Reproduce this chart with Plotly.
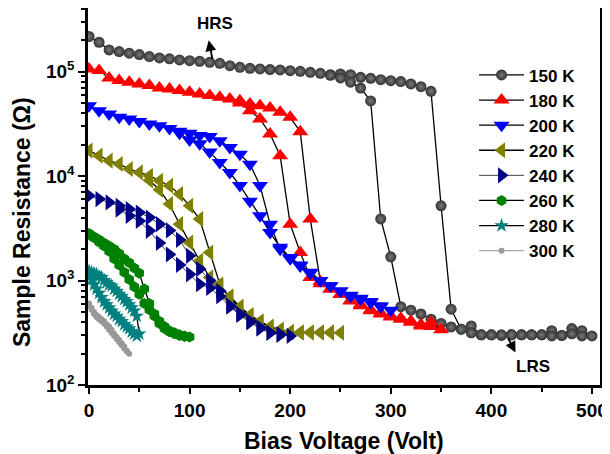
import numpy as np
import plotly.graph_objects as go

# ---------------- data (log10 of resistance in ohm) -------------
# 150 K : forward sweep 0 -> 500 V, then return sweep 490 -> 240 V
V_150 = list(range(0, 501, 10)) + list(range(490, 239, -10))
logR_150 = [5.337, 5.282, 5.209, 5.193, 5.177, 5.164, 5.145, 5.132, 5.123, 5.113,
            5.106, 5.100, 5.090, 5.080, 5.058, 5.042, 5.032, 5.027, 5.020, 5.017,
            5.010, 5.004, 4.994, 4.985, 4.972, 4.979, 4.972, 4.946, 4.937, 4.924,
            4.914, 4.905, 4.883, 4.857, 4.812, 3.716, 2.726, 2.534, 2.566, 2.480,
            2.480, 2.475, 2.480, 2.480, 2.480, 2.480, 2.520, 2.475, 2.540, 2.520,
            2.470,
            2.470, 2.490, 2.475, 2.470, 2.480, 2.480, 2.480, 2.480, 2.480, 2.480,
            2.480, 2.500, 2.534, 2.556, 2.590, 2.630, 2.680, 2.716, 2.750, 3.227,
            3.590, 4.720, 4.843, 4.900, 4.940, 4.965]

# 180 K : 0 -> 350 V, back 340 -> 150 V
V_180 = list(range(0, 351, 10)) + list(range(340, 149, -10))
logR_180 = [5.027, 5.011, 4.940, 4.915, 4.898, 4.883, 4.867, 4.845, 4.835, 4.819,
            4.803, 4.787, 4.771, 4.755, 4.739, 4.723, 4.691, 4.675, 4.653, 4.611,
            4.563, 4.426, 3.589, 2.990, 2.920, 2.870, 2.805, 2.760, 2.710, 2.680,
            2.650, 2.630, 2.600, 2.566, 2.600, 2.530,
            2.560, 2.580, 2.610, 2.640, 2.660, 2.690, 2.720, 2.770, 2.810, 2.870,
            2.920, 2.970, 3.030, 3.268, 3.540, 4.196, 4.404, 4.547, 4.627, 4.700]

# 200 K : 0 -> 300 V, back 290 -> 90 V
V_200 = list(range(0, 301, 10)) + list(range(290, 89, -10))
logR_200 = [4.675, 4.627, 4.595, 4.563, 4.547, 4.524, 4.499, 4.483, 4.457, 4.430,
            4.410, 4.390, 4.380, 4.340, 4.275, 4.210, 4.115, 3.910, 3.540, 3.300,
            3.210, 3.140, 3.070, 3.000, 2.950, 2.900, 2.850, 2.820, 2.790, 2.750,
            2.716,
            2.760, 2.800, 2.830, 2.860, 2.900, 2.950, 3.000, 3.080, 3.150, 3.220,
            3.320, 3.460, 3.620, 3.760, 3.910, 4.035, 4.130, 4.230, 4.310, 4.345,
            4.410]

# 220 K : 0 -> 250 V, back 240 -> 60 V
V_220 = list(range(0, 251, 10)) + list(range(240, 59, -10))
logR_220 = [4.244, 4.196, 4.148, 4.116, 4.068, 4.036, 4.004, 3.956, 3.908, 3.828,
            3.716, 3.589, 3.268, 2.965, 2.830, 2.740, 2.660, 2.600, 2.550, 2.520,
            2.505, 2.500, 2.500, 2.500, 2.500, 2.500,
            2.505, 2.505, 2.505, 2.505, 2.510, 2.530, 2.560, 2.610, 2.670, 2.750,
            2.850, 2.940, 3.030, 3.190, 3.364, 3.540, 3.733, 3.870, 3.960]

# 240 K : 0 -> 200 V, back 190 -> 30 V
V_240 = list(range(0, 201, 10)) + list(range(190, 29, -10))
logR_240 = [3.812, 3.780, 3.748, 3.716, 3.684, 3.652, 3.604, 3.540, 3.480, 3.390,
            3.237, 3.110, 3.000, 2.900, 2.760, 2.680, 2.610, 2.550, 2.500, 2.485,
            2.470,
            2.480, 2.500, 2.540, 2.600, 2.670, 2.750, 2.850, 2.930, 2.965, 3.060,
            3.150, 3.250, 3.360, 3.476, 3.570, 3.620, 3.680]

# 260 K : 0 -> 100 V, back 95 -> 0 V
V_260 = list(range(0, 101, 5)) + list(range(95, -1, -5))
logR_260 = [3.450, 3.420, 3.390, 3.360, 3.330, 3.300, 3.260, 3.210, 3.170, 3.120,
            3.070, 2.920, 2.780, 2.660, 2.590, 2.540, 2.510, 2.490, 2.475, 2.465,
            2.460,
            2.470, 2.480, 2.500, 2.520, 2.560, 2.610, 2.680, 2.720, 2.780, 2.870,
            2.940, 3.010, 3.080, 3.150, 3.210, 3.280, 3.330, 3.370, 3.410, 3.440]

# 280 K : 0 -> 50 V, back 47.5 -> 0 V
V_280 = [0, 2.5, 5, 7.5, 10, 12.5, 15, 17.5, 20, 22.5, 25, 27.5, 30, 32.5, 35, 37.5,
         40, 42.5, 45, 47.5, 50,
         47.5, 45, 42.5, 40, 37.5, 35, 32.5, 30, 27.5, 25, 22.5, 20, 17.5, 15, 12.5,
         10, 7.5, 5, 2.5, 0]
logR_280 = [3.090, 3.080, 3.070, 3.060, 3.040, 3.030, 3.000, 2.980, 2.960, 2.950,
            2.920, 2.900, 2.870, 2.850, 2.820, 2.800, 2.770, 2.740, 2.710, 2.660,
            2.490,
            2.470, 2.490, 2.510, 2.540, 2.560, 2.580, 2.610, 2.630, 2.660, 2.680,
            2.710, 2.740, 2.770, 2.800, 2.840, 2.880, 2.920, 2.960, 3.010, 3.060]

# 300 K : 0 -> 40 V, back 37.5 -> 0 V
V_300 = [0, 2.5, 5, 7.5, 10, 12.5, 15, 17.5, 20, 22.5, 25, 27.5, 30, 32.5, 35, 37.5, 40,
         37.5, 35, 32.5, 30, 27.5, 25, 22.5, 20, 17.5, 15, 12.5, 10, 7.5, 5, 2.5, 0]
logR_300 = [2.780, 2.740, 2.700, 2.670, 2.650, 2.630, 2.610, 2.580, 2.560, 2.530,
            2.490, 2.460, 2.430, 2.400, 2.370, 2.330, 2.300,
            2.320, 2.350, 2.380, 2.410, 2.440, 2.470, 2.500, 2.530, 2.560, 2.590,
            2.610, 2.630, 2.650, 2.680, 2.720, 2.760]

temperatures = ["150 K", "180 K", "200 K", "220 K", "240 K", "260 K", "280 K", "300 K"]
voltages = [V_150, V_180, V_200, V_220, V_240, V_260, V_280, V_300]
log_res = [logR_150, logR_180, logR_200, logR_220, logR_240, logR_260, logR_280, logR_300]

y_tick_vals = [1e2, 1e3, 1e4, 1e5]
y_tick_text = ["10<sup>2</sup>", "10<sup>3</sup>", "10<sup>4</sup>", "10<sup>5</sup>"]

# ---------------- styles ----------------
styles = [
    dict(marker=dict(symbol="circle", size=11, color="#333333",
                     gradient=dict(type="radial", color="#7a7a7a"), line=dict(width=0)),
         line=dict(color="black", width=1.3)),
    dict(marker=dict(symbol="triangle-up", size=14, color="#ff0000", line=dict(width=0)),
         line=dict(color="black", width=1.3)),
    dict(marker=dict(symbol="triangle-down", size=14, color="#0000ff", line=dict(width=0)),
         line=dict(color="black", width=1.3)),
    dict(marker=dict(symbol="triangle-left", size=14, color="#808000", line=dict(width=0)),
         line=dict(color="black", width=1.3)),
    dict(marker=dict(symbol="triangle-right", size=14, color="#000080", line=dict(width=0)),
         line=dict(color="#444444", width=1)),
    dict(marker=dict(symbol="hexagon", size=11, color="#008000", line=dict(width=0)),
         line=dict(color="black", width=1.3)),
    dict(marker=dict(symbol="star", size=11, color="#008080", line=dict(width=0)),
         line=dict(color="black", width=1.3)),
    dict(marker=dict(symbol="circle", size=6, color="#999999", line=dict(width=0)),
         line=dict(color="#aaaaaa", width=1.3)),
]

fig = go.Figure()
for name, v, lr, st in zip(temperatures, voltages, log_res, styles):
    fig.add_trace(go.Scatter(x=v, y=(10 ** np.array(lr)).tolist(), mode="lines+markers",
                             name=name, marker=st["marker"], line=st["line"]))

font_family = "Liberation Sans, Arial, sans-serif"

# the page body adds an 8 px margin, so the figure is sized to fit the remaining window
fig.update_layout(
    width=602, height=446,
    margin=dict(l=80, r=10, t=0, b=69, autoexpand=False),
    paper_bgcolor="white", plot_bgcolor="white",
    font=dict(family=font_family, color="black"),
    showlegend=True,
    legend=dict(x=0.754, y=0.869, xanchor="left", yanchor="top",
                bgcolor="rgba(0,0,0,0)", borderwidth=0,
                font=dict(family=font_family, size=17, color="black", weight="bold"),
                itemwidth=45, tracegroupgap=0),
)

fig.update_xaxes(
    automargin=False,
    range=[-1, 508], tickmode="linear", tick0=0, dtick=100,
    ticks="outside", ticklen=6, tickwidth=2, tickcolor="black",
    minor=dict(ticks="outside", ticklen=4, tickwidth=2, dtick=50, tick0=0, tickcolor="black"),
    showline=True, linewidth=2.5, linecolor="black", mirror=True,
    showgrid=False, zeroline=False,
    tickfont=dict(family=font_family, size=19, weight="bold"),
)

fig.update_yaxes(
    automargin=False,
    type="log", range=[2, 5.61],
    tickvals=y_tick_vals, ticktext=y_tick_text,
    ticks="outside", ticklen=7, tickwidth=2, tickcolor="black",
    minor=dict(ticks="outside", ticklen=4, tickwidth=1.5, tickcolor="black",
               tickvals=[m * 10 ** d for d in range(2, 6) for m in range(2, 10)]),
    showline=True, linewidth=2.5, linecolor="black", mirror=True,
    showgrid=False, zeroline=False,
    tickfont=dict(family=font_family, size=19, weight="bold"),
)

title_font = dict(family=font_family, size=23, color="black", weight="bold")
fig.add_annotation(text="Bias Voltage (Volt)", xref="paper", yref="paper",
                   x=0.5, y=-0.1485, xanchor="center", yanchor="middle",
                   showarrow=False, font=title_font)
fig.add_annotation(text="Sample Resistance (\u03a9)", xref="paper", yref="paper",
                   x=-0.129, y=0.432, xanchor="center", yanchor="middle",
                   textangle=-90, showarrow=False, font=title_font)

ann_font = dict(family=font_family, size=17, color="black", weight="bold")
fig.add_annotation(x=125, y=np.log10(2.9e5), text="HRS", showarrow=False, font=ann_font,
                   xref="x", yref="y")
fig.add_annotation(x=119, y=np.log10(2.0e5), ax=123, ay=np.log10(1.28e5),
                   xref="x", yref="y", axref="x", ayref="y", text="",
                   showarrow=True, arrowhead=2, arrowsize=1.2, arrowwidth=1.8, arrowcolor="black")
fig.add_annotation(x=441, y=np.log10(150), text="LRS", showarrow=False, font=ann_font,
                   xref="x", yref="y")
fig.add_annotation(x=424, y=np.log10(205), ax=416, ay=np.log10(288),
                   xref="x", yref="y", axref="x", ayref="y", text="",
                   showarrow=True, arrowhead=2, arrowsize=1.2, arrowwidth=1.8, arrowcolor="black")

fig.write_html("out.html")
